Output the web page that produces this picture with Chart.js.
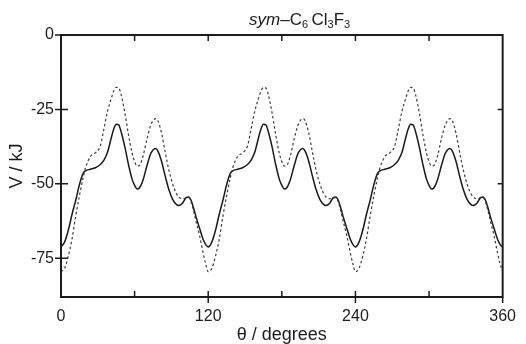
<!DOCTYPE html>
<html>
<head>
<meta charset="utf-8">
<script src="https://cdn.jsdelivr.net/npm/chart.js@4/dist/chart.umd.min.js"></script>
<style>
  html, body { margin: 0; padding: 0; background: #fff; }
  #wrap { position: relative; width: 526px; height: 344px; }
  #title { position: absolute; left: 249px; top: 11px; font-family: "Liberation Sans", Arial, sans-serif; font-size: 17px; line-height: 17px; color: #1a1a1a; white-space: nowrap; }
  #title sub { font-size: 11px; vertical-align: -3px; line-height: 0; }
</style>
</head>
<body>
<div id="wrap">
  <canvas id="c" width="526" height="344"></canvas>
  <div id="title"><i>sym</i>&#8211;C<sub>6</sub>&#8201;Cl<sub>3</sub>F<sub>3</sub></div>
</div>
<script>
// ---- data (theta in degrees, V in kJ) ----
const theta = [
  0,3,6,9,12,15,18,20,24,28,32,35,38,41,43,45,47,49,52,55,58,60,62,64,67,70,73,75,77,79,82,85,88,91,94,96,99,102,104,106,108,110,113,116,118,
  120,123,126,129,132,135,138,140,144,148,152,155,158,161,163,165,167,169,172,175,178,180,182,184,187,190,193,195,197,199,202,205,208,211,214,216,219,222,224,226,228,230,233,236,238,
  240,243,246,249,252,255,258,260,264,268,272,275,278,281,283,285,287,289,292,295,298,300,302,304,307,310,313,315,317,319,322,325,328,331,334,336,339,342,344,346,348,350,353,356,358,
  360
];
const solidV = [
  -71.2,-69.5,-65.5,-60.2,-55.5,-50.3,-46.5,-45.6,-45.1,-44.6,-43.5,-42.0,-39.3,-34.5,-31.6,-30.0,-30.2,-32.5,-37.5,-43.5,-48.5,-50.5,-51.7,-51.3,-48.5,-44.0,-40.0,-38.6,-38.1,-39.0,-42.5,-47.5,-52.0,-55.2,-56.9,-57.3,-56.5,-54.6,-54.4,-55.5,-58.0,-61.0,-65.0,-68.8,-70.4,
  -71.2,-69.5,-65.5,-60.2,-55.5,-50.3,-46.5,-45.6,-45.1,-44.6,-43.5,-42.0,-39.3,-34.5,-31.6,-30.0,-30.2,-32.5,-37.5,-43.5,-48.5,-50.5,-51.7,-51.3,-48.5,-44.0,-40.0,-38.6,-38.1,-39.0,-42.5,-47.5,-52.0,-55.2,-56.9,-57.3,-56.5,-54.6,-54.4,-55.5,-58.0,-61.0,-65.0,-68.8,-70.4,
  -71.2,-69.5,-65.5,-60.2,-55.5,-50.3,-46.5,-45.6,-45.1,-44.6,-43.5,-42.0,-39.3,-34.5,-31.6,-30.0,-30.2,-32.5,-37.5,-43.5,-48.5,-50.5,-51.7,-51.3,-48.5,-44.0,-40.0,-38.6,-38.1,-39.0,-42.5,-47.5,-52.0,-55.2,-56.9,-57.3,-56.5,-54.6,-54.4,-55.5,-58.0,-61.0,-65.0,-68.8,-70.4,
  -71.2
];
const dashedV = [
  -79.5,-78.3,-74.2,-68.5,-60.8,-54.0,-48.0,-44.6,-40.8,-39.6,-37.3,-31.5,-25.5,-21.3,-18.8,-17.6,-17.8,-20.0,-26.0,-33.5,-39.8,-42.5,-44.0,-43.8,-40.5,-35.0,-30.5,-28.8,-28.1,-28.8,-33.0,-39.5,-45.5,-50.0,-53.2,-54.4,-55.0,-54.7,-54.6,-56.0,-59.0,-62.5,-67.5,-73.5,-77.0,
  -79.5,-78.3,-74.2,-68.5,-60.8,-54.0,-48.0,-44.6,-40.8,-39.6,-37.3,-31.5,-25.5,-21.3,-18.8,-17.6,-17.8,-20.0,-26.0,-33.5,-39.8,-42.5,-44.0,-43.8,-40.5,-35.0,-30.5,-28.8,-28.1,-28.8,-33.0,-39.5,-45.5,-50.0,-53.2,-54.4,-55.0,-54.7,-54.6,-56.0,-59.0,-62.5,-67.5,-73.5,-77.0,
  -79.5,-78.3,-74.2,-68.5,-60.8,-54.0,-48.0,-44.6,-40.8,-39.6,-37.3,-31.5,-25.5,-21.3,-18.8,-17.6,-17.8,-20.0,-26.0,-33.5,-39.8,-42.5,-44.0,-43.8,-40.5,-35.0,-30.5,-28.8,-28.1,-28.8,-33.0,-39.5,-45.5,-50.0,-53.2,-54.4,-55.0,-54.7,-54.6,-56.0,-59.0,-62.5,-67.5,-73.5,-77.0,
  -79.5
];
const xTickLabels = [0, 120, 240, 360];
const yTickLabels = [0, -25, -50, -75];
const xMarks = [60, 120, 180, 240, 300];
const xMajorMarks = [120, 240, 360];
const yRightMarks = [-25, -50];

const ink = '#1c1c1c';
const fam = '"Liberation Sans", Arial, sans-serif';
const tickFont = { family: fam, size: 16 };

const framePlugin = {
  id: 'frame',
  afterDraw(chart) {
    const { ctx, chartArea: a, scales: { x, y } } = chart;
    ctx.save();
    ctx.strokeStyle = ink;
    ctx.lineWidth = 2;
    ctx.strokeRect(a.left, a.top, a.right - a.left, a.bottom - a.top);
    ctx.lineWidth = 1.5;
    ctx.beginPath();
    xMarks.forEach(v => {
      const px = x.getPixelForValue(v);
      ctx.moveTo(px, a.bottom); ctx.lineTo(px, a.bottom - 6);
      ctx.moveTo(px, a.top); ctx.lineTo(px, a.top + 6);
    });
    xMajorMarks.forEach(v => {
      const px = x.getPixelForValue(v);
      ctx.moveTo(px, a.bottom); ctx.lineTo(px, a.bottom + 6);
    });
    yTickLabels.forEach(v => {
      const py = y.getPixelForValue(v);
      ctx.moveTo(a.left - 6, py); ctx.lineTo(a.left + (v === 0 ? 0 : 7), py);
    });
    yRightMarks.forEach(v => {
      const py = y.getPixelForValue(v);
      ctx.moveTo(a.right, py); ctx.lineTo(a.right - 5, py);
    });
    ctx.stroke();
    ctx.restore();
  }
};

new Chart(document.getElementById('c'), {
  type: 'line',
  data: {
    datasets: [
      {
        label: 'dashed',
        data: theta.map((t, i) => ({ x: t, y: dashedV[i] })),
        borderColor: '#3a3a3a',
        borderWidth: 1.2,
        borderDash: [2.5, 2.5],
        pointRadius: 0,
        cubicInterpolationMode: 'monotone',
        fill: false
      },
      {
        label: 'solid',
        data: theta.map((t, i) => ({ x: t, y: solidV[i] })),
        borderColor: '#1a1a1a',
        borderWidth: 1.5,
        pointRadius: 0,
        cubicInterpolationMode: 'monotone',
        fill: false
      }
    ]
  },
  options: {
    responsive: false,
    animation: false,
    devicePixelRatio: 1,
    layout: { padding: { top: 35, right: 18, left: 0, bottom: 0 } },
    plugins: { legend: { display: false }, title: { display: false }, tooltip: { enabled: false } },
    scales: {
      x: {
        type: 'linear', min: 0, max: 360,
        afterBuildTicks: s => { s.ticks = xTickLabels.map(v => ({ value: v })); },
        ticks: { font: tickFont, color: ink, padding: 10, maxRotation: 0 },
        grid: { display: false, drawTicks: false },
        border: { display: false },
        title: { display: true, text: 'θ / degrees', color: ink, font: { family: fam, size: 18, lineHeight: 1 }, padding: { top: 0, bottom: 0 } },
        afterFit: s => { s.height = 47; }
      },
      y: {
        type: 'linear', min: -88, max: 0,
        afterBuildTicks: s => { s.ticks = yTickLabels.map(v => ({ value: v })); },
        ticks: { font: tickFont, color: ink, padding: 7 },
        grid: { display: false, drawTicks: false },
        border: { display: false },
        title: { display: true, text: 'V / kJ', color: ink, font: { family: fam, size: 18, lineHeight: 1 }, padding: { top: 8, bottom: 0 } },
        afterFit: s => { s.width = 61; }
      }
    }
  },
  plugins: [framePlugin]
});
</script>
</body>
</html>
